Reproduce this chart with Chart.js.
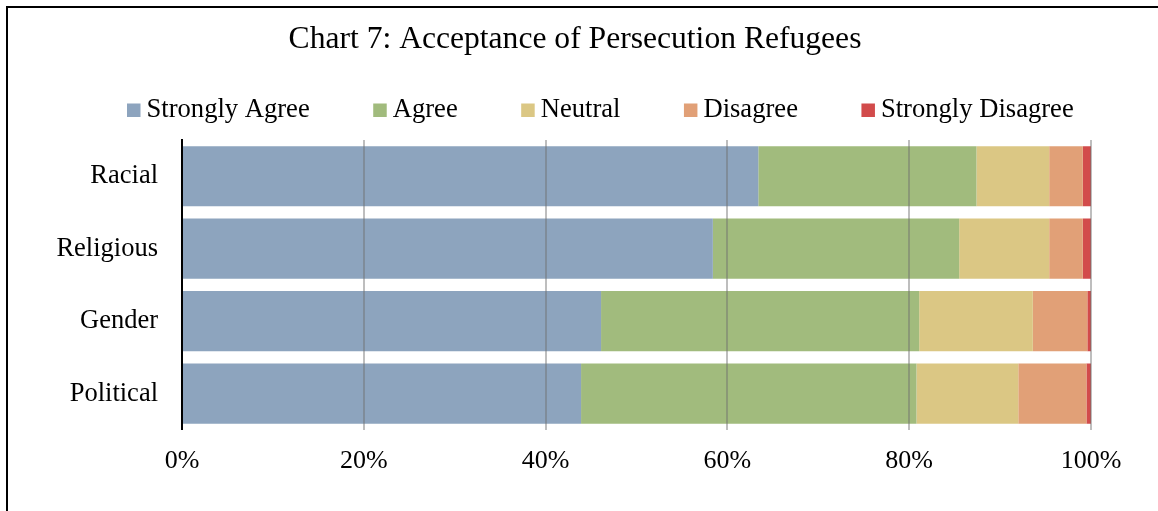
<!DOCTYPE html>
<html>
<head>
<meta charset="utf-8">
<title>Acceptance of Persecution Refugees</title>
<script src="https://cdn.jsdelivr.net/npm/chart.js@4"></script>
<style>
    html, body { margin: 0; padding: 0; background: #fff; overflow: hidden; }
    .chart-wrap { position: relative; width: 1158px; height: 511px; }
</style>
</head>
<body>
<div class="chart-wrap">
    <canvas id="refugeeChart"></canvas>
</div>
<script>
const chartTitle = 'Chart 7: Acceptance of Persecution Refugees';
const categories = ['Racial', 'Religious', 'Gender', 'Political'];
const seriesNames = ['Strongly Agree', 'Agree', 'Neutral', 'Disagree', 'Strongly Disagree'];
const seriesColors = ['#8DA4BE', '#A1BB7D', '#DBC784', '#E1A077', '#D24B4B'];

// share of answers per category, in percent
const stronglyAgree = [63.4, 58.4, 46.1, 43.9];
const agree = [24.0, 27.1, 35.0, 36.9];
const neutral = [8.0, 9.9, 12.5, 11.2];
const disagree = [3.7, 3.7, 6.0, 7.5];
const stronglyDisagree = [0.9, 0.9, 0.4, 0.5];

const xTicks = [0, 20, 40, 60, 80, 100];

const serif = '"Liberation Serif", "Times New Roman", serif';

// frame, title and legend row are painted by hand
const headerPlugin = {
    id: 'header',
    beforeDraw(chart) {
        const ctx = chart.ctx;
        ctx.save();
        ctx.strokeStyle = '#000';
        ctx.lineWidth = 2;
        ctx.beginPath();
        ctx.moveTo(7, chart.height);
        ctx.lineTo(7, 7);
        ctx.lineTo(chart.width, 7);
        ctx.stroke();
        ctx.restore();
    },
    afterDraw(chart) {
        const ctx = chart.ctx;
        ctx.save();
        ctx.fillStyle = '#000';
        ctx.textBaseline = 'alphabetic';
        ctx.font = '31.6px ' + serif;
        ctx.textAlign = 'center';
        ctx.fillText(chartTitle, 575, 48);

        ctx.font = '26.6px ' + serif;
        ctx.textAlign = 'left';
        const box = 13.5, textGap = 6, itemGap = 63.5;
        let x = 127;
        chart.data.datasets.forEach(ds => {
            const w = ctx.measureText(ds.label).width;
            ctx.fillStyle = ds.backgroundColor;
            ctx.fillRect(x, 103.5, box, box);
            ctx.fillStyle = '#000';
            ctx.fillText(ds.label, x + box + textGap, 117);
            x += box + textGap + w + itemGap;
        });
        ctx.restore();
    }
};

const seriesValues = [stronglyAgree, agree, neutral, disagree, stronglyDisagree];

const ctx = document.getElementById('refugeeChart').getContext('2d');
const refugeeChart = new Chart(ctx, {
    type: 'bar',
    data: {
        labels: categories,
        datasets: seriesNames.map((name, i) => ({
            label: name,
            data: seriesValues[i],
            backgroundColor: seriesColors[i],
            borderWidth: 0,
            barPercentage: 0.83,
            categoryPercentage: 1
        }))
    },
    options: {
        indexAxis: 'y',
        responsive: true,
        maintainAspectRatio: false,
        animation: false,
        layout: {
            padding: { left: 10, right: 67, top: 140, bottom: 18 }
        },
        plugins: {
            legend: { display: false },
            title: { display: false },
            tooltip: { enabled: false }
        },
        scales: {
            x: {
                stacked: true,
                min: 0,
                max: 100,
                afterBuildTicks: scale => {
                    scale.ticks = xTicks.map(v => ({ value: v }));
                },
                grid: {
                    z: 1,
                    color: 'rgba(110, 110, 110, 0.45)',
                    lineWidth: 2,
                    drawTicks: false
                },
                border: { display: false },
                ticks: {
                    padding: 16,
                    color: '#000',
                    font: { family: serif, size: 26 },
                    callback: v => v + '%'
                }
            },
            y: {
                stacked: true,
                afterFit: scale => { scale.width = 172; },
                grid: { display: false, drawTicks: false },
                border: { display: true, color: '#000', width: 2, z: 2 },
                ticks: {
                    padding: 24,
                    color: '#000',
                    font: { family: serif, size: 26.5 }
                }
            }
        }
    },
    plugins: [headerPlugin]
});
</script>
</body>
</html>
